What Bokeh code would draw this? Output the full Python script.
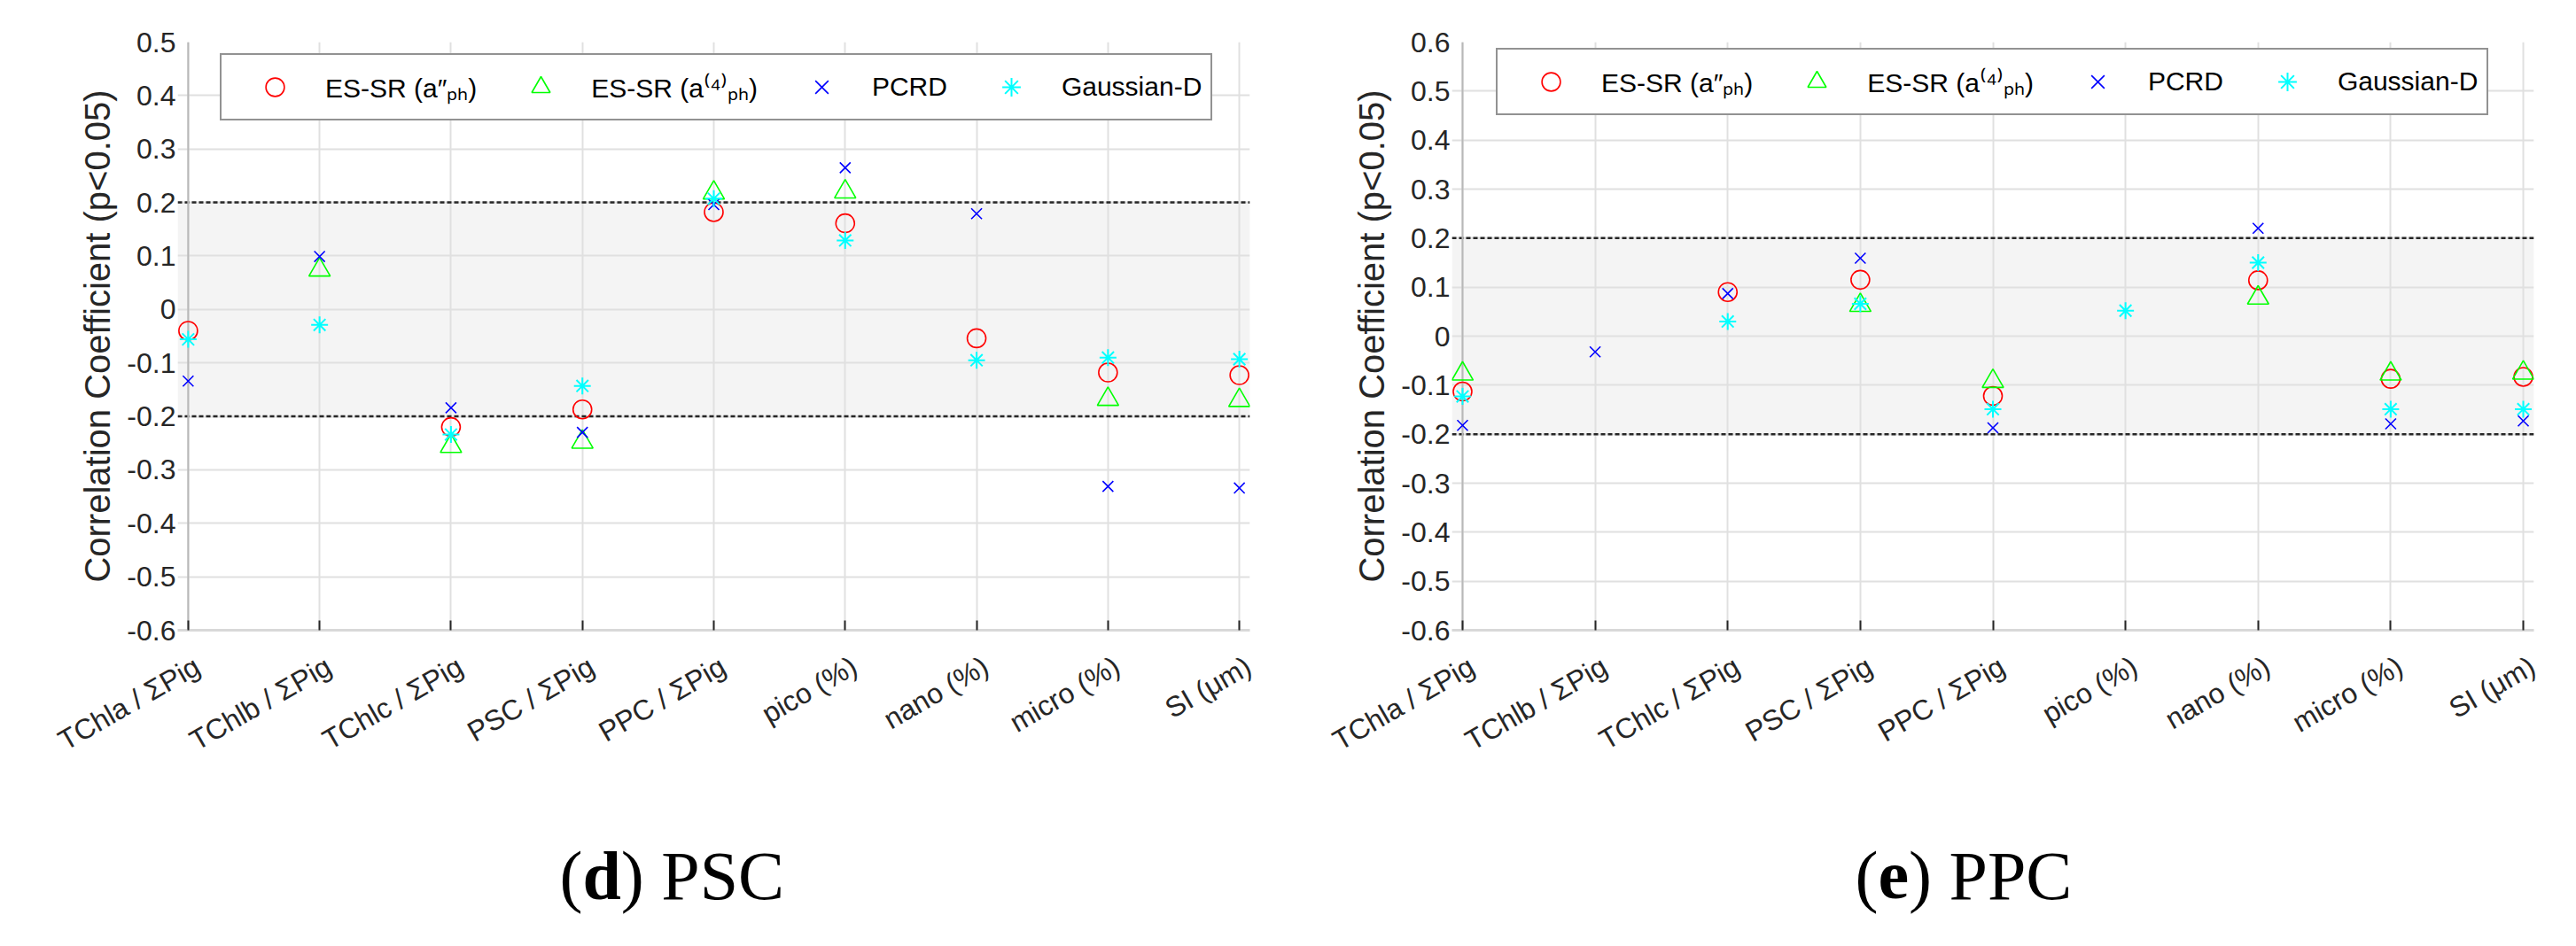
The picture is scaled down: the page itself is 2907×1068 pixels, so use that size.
import math
from bokeh.plotting import figure
from bokeh.models import (Range1d, FixedTicker, CustomJSTickFormatter, BoxAnnotation,
                          Span, Legend, LegendItem, LinearAxis, ColumnDataSource)
from bokeh.core.properties import value
from bokeh.layouts import column, row
from bokeh.embed import file_html
from bokeh.resources import INLINE

NaN = float("nan")

categories = ["TChla / ΣPig", "TChlb / ΣPig", "TChlc / ΣPig", "PSC / ΣPig", "PPC / ΣPig",
              "pico (%)", "nano (%)", "micro (%)", "SI (μm)"]
x_pos = [1, 2, 3, 4, 5, 6, 7, 8, 9]

series_names = ["ES-SR (a″ₚₕ)", "ES-SR (a⁽⁴⁾ₚₕ)", "PCRD", "Gaussian-D"]

# (d) PSC  (NaN = not significant, not drawn)
psc_essr_a = [-0.040, NaN, -0.220, -0.187, 0.182, 0.161, -0.054, -0.118, -0.123]
psc_essr_4 = [NaN, 0.074, -0.256, -0.248, 0.218, 0.220, NaN, -0.168, -0.170]
psc_pcrd = [-0.134, 0.099, -0.184, -0.230, 0.196, 0.265, 0.179, -0.331, -0.334]
psc_gauss = [-0.056, -0.029, -0.234, -0.143, 0.207, 0.129, -0.095, -0.090, -0.093]

# (e) PPC
ppc_essr_a = [-0.113, NaN, 0.090, 0.115, -0.122, NaN, 0.114, -0.087, -0.083]
ppc_essr_4 = [-0.077, NaN, NaN, 0.063, -0.092, NaN, 0.078, -0.077, -0.075]
ppc_pcrd = [-0.182, -0.032, 0.087, 0.159, -0.187, NaN, 0.220, -0.179, -0.173]
ppc_gauss = [-0.123, NaN, 0.030, 0.066, -0.149, 0.052, 0.150, -0.149, -0.149]

yticks_d = [-0.6, -0.5, -0.4, -0.3, -0.2, -0.1, 0.0, 0.1, 0.2, 0.3, 0.4, 0.5]
yticks_e = [-0.6, -0.5, -0.4, -0.3, -0.2, -0.1, 0.0, 0.1, 0.2, 0.3, 0.4, 0.5, 0.6]
band = [-0.2, 0.2]

captions = [("d", " PSC"), ("e", " PPC")]

FONT = "Liberation Sans"
DARK = "#262626"
GRID = "#e0e0e0"
PAD = 0.08
LABEL_SHIFT = 0.07


def make_panel(vals, yticks, width, height, borders, legend_loc):
    left, right, top, bottom = borders
    p = figure(width=width, height=height, output_backend="svg", toolbar_location=None,
               x_range=Range1d(x_pos[0] - PAD, x_pos[-1] + PAD),
               y_range=Range1d(yticks[0], yticks[-1]),
               min_border_left=left, min_border_right=right,
               min_border_top=top, min_border_bottom=bottom)
    p.outline_line_color = None
    p.background_fill_color = "white"
    p.border_fill_color = "white"

    p.xgrid.ticker = FixedTicker(ticks=x_pos)
    p.ygrid.ticker = FixedTicker(ticks=yticks)
    p.xgrid.grid_line_color = GRID
    p.xgrid.grid_line_width = 2
    p.ygrid.grid_line_color = GRID
    p.ygrid.grid_line_width = 2

    p.add_layout(BoxAnnotation(bottom=band[0], top=band[1], fill_color="#f4f4f4",
                               fill_alpha=1.0, line_color=None, level="image"))
    for b in band:
        p.add_layout(Span(location=b, dimension="width", line_color=DARK,
                          line_width=2.5, line_dash="5 3", level="underlay"))
    p.add_layout(Span(location=x_pos[0], dimension="height", line_color="#b8b8b8",
                      line_width=2, level="underlay"))

    # x axis: tick marks only
    xa = p.xaxis[0]
    xa.ticker = FixedTicker(ticks=x_pos)
    xa.formatter = CustomJSTickFormatter(code="return '';")
    xa.major_label_standoff = 0
    xa.major_label_text_font_size = "1px"
    xa.major_tick_in = 11
    xa.major_tick_out = 0
    xa.major_tick_line_color = DARK
    xa.major_tick_line_width = 2
    xa.minor_tick_line_color = None
    xa.axis_line_color = "#d8d8d8"
    xa.axis_line_width = 3

    # x axis: rotated category labels
    la = LinearAxis(ticker=FixedTicker(ticks=[x + LABEL_SHIFT for x in x_pos]),
                    formatter=CustomJSTickFormatter(args=dict(labels=categories),
                                                    code="return labels[index];"))
    la.major_label_orientation = math.pi / 6
    la.major_label_text_font = FONT
    la.major_label_text_font_size = "32px"
    la.major_label_text_color = DARK
    la.major_label_standoff = 32
    la.major_tick_line_color = None
    la.minor_tick_line_color = None
    la.axis_line_color = None
    p.add_layout(la, "below")

    ya = p.yaxis[0]
    ya.ticker = FixedTicker(ticks=yticks)
    ya.formatter = CustomJSTickFormatter(code="return (Math.round(tick*10)/10).toString();")
    ya.major_label_text_font = FONT
    ya.major_label_text_font_size = "32px"
    ya.major_label_text_color = DARK
    ya.major_label_standoff = 2
    ya.major_tick_in = 0
    ya.major_tick_out = 0
    ya.minor_tick_line_color = None
    ya.axis_line_color = None
    ya.axis_label = "Correlation Coefficient (p<0.05)"
    ya.axis_label_text_font = FONT
    ya.axis_label_text_font_size = "40px"
    ya.axis_label_text_font_style = "normal"
    ya.axis_label_text_color = DARK
    ya.axis_label_standoff = 8

    src = ColumnDataSource(dict(x=x_pos, a=vals[0], b=vals[1], c=vals[2], d=vals[3]))
    r1 = p.scatter("x", "a", source=src, marker="circle", size=21, fill_color=None,
                   line_color="#ff0000", line_width=1.6)
    r2 = p.scatter("x", "b", source=src, marker="triangle", size=24, fill_color=None,
                   line_color="#00ff00", line_width=1.6)
    r3 = p.scatter("x", "c", source=src, marker="x", size=17,
                   line_color="#0000ff", line_width=1.6)
    r4 = p.scatter("x", "d", source=src, marker="asterisk", size=19,
                   line_color="#00ffff", line_width=2)

    legend = Legend(items=[LegendItem(label=n, renderers=[r]) for n, r in
                           zip(series_names, [r1, r2, r3, r4])],
                    orientation="horizontal", location=legend_loc,
                    glyph_width=100, glyph_height=52, label_height=52,
                    label_standoff=7, spacing=22, padding=10, margin=0,
                    border_line_color=DARK, border_line_width=2,
                    background_fill_color="white", background_fill_alpha=1.0,
                    label_text_font=FONT, label_text_font_size="30px",
                    label_text_color="#000000")
    p.add_layout(legend, "center")
    return p


def make_captions(width, height, lefts, mid_y):
    c = figure(width=width, height=height, output_backend="svg", toolbar_location=None,
               x_range=Range1d(0, width), y_range=Range1d(0, height),
               x_axis_type=None, y_axis_type=None,
               min_border_left=0, min_border_right=0, min_border_top=0, min_border_bottom=0)
    c.outline_line_color = None
    c.xgrid.visible = False
    c.ygrid.visible = False
    fs = 78
    w_paren = 0.333 * fs
    xs_n, txt_n, xs_b, txt_b = [], [], [], []
    for (letter, rest), x_left in zip(captions, lefts):
        w_bold = (0.556 if letter == "d" else 0.444) * fs
        xs_n += [x_left, x_left + w_paren + w_bold]
        txt_n += ["(", ")" + rest]
        xs_b.append(x_left + w_paren)
        txt_b.append(letter)
    c.text(x=xs_n, y=[mid_y] * len(xs_n), text=txt_n,
           text_font=value("Liberation Serif"), text_font_size=f"{fs}px",
           text_font_style="normal", text_color="#000000",
           text_baseline="middle", text_align="left")
    c.text(x=xs_b, y=[mid_y] * len(xs_b), text=txt_b,
           text_font=value("Liberation Serif"), text_font_size=f"{fs}px",
           text_font_style="bold", text_color="#000000",
           text_baseline="middle", text_align="left")
    return c


p_d = make_panel([psc_essr_a, psc_essr_4, psc_pcrd, psc_gauss], yticks_d,
                 1445, 872, (200, 35, 47, 150), (48, 575))
p_e = make_panel([ppc_essr_a, ppc_essr_4, ppc_pcrd, ppc_gauss], yticks_e,
                 1446, 872, (193, 32, 47, 141), (50, 581))

caps = make_captions(2891, 180, [631, 2093], 64)

layout = column(row(p_d, p_e), caps)
open("out.html", "w").write(file_html(layout, INLINE))
